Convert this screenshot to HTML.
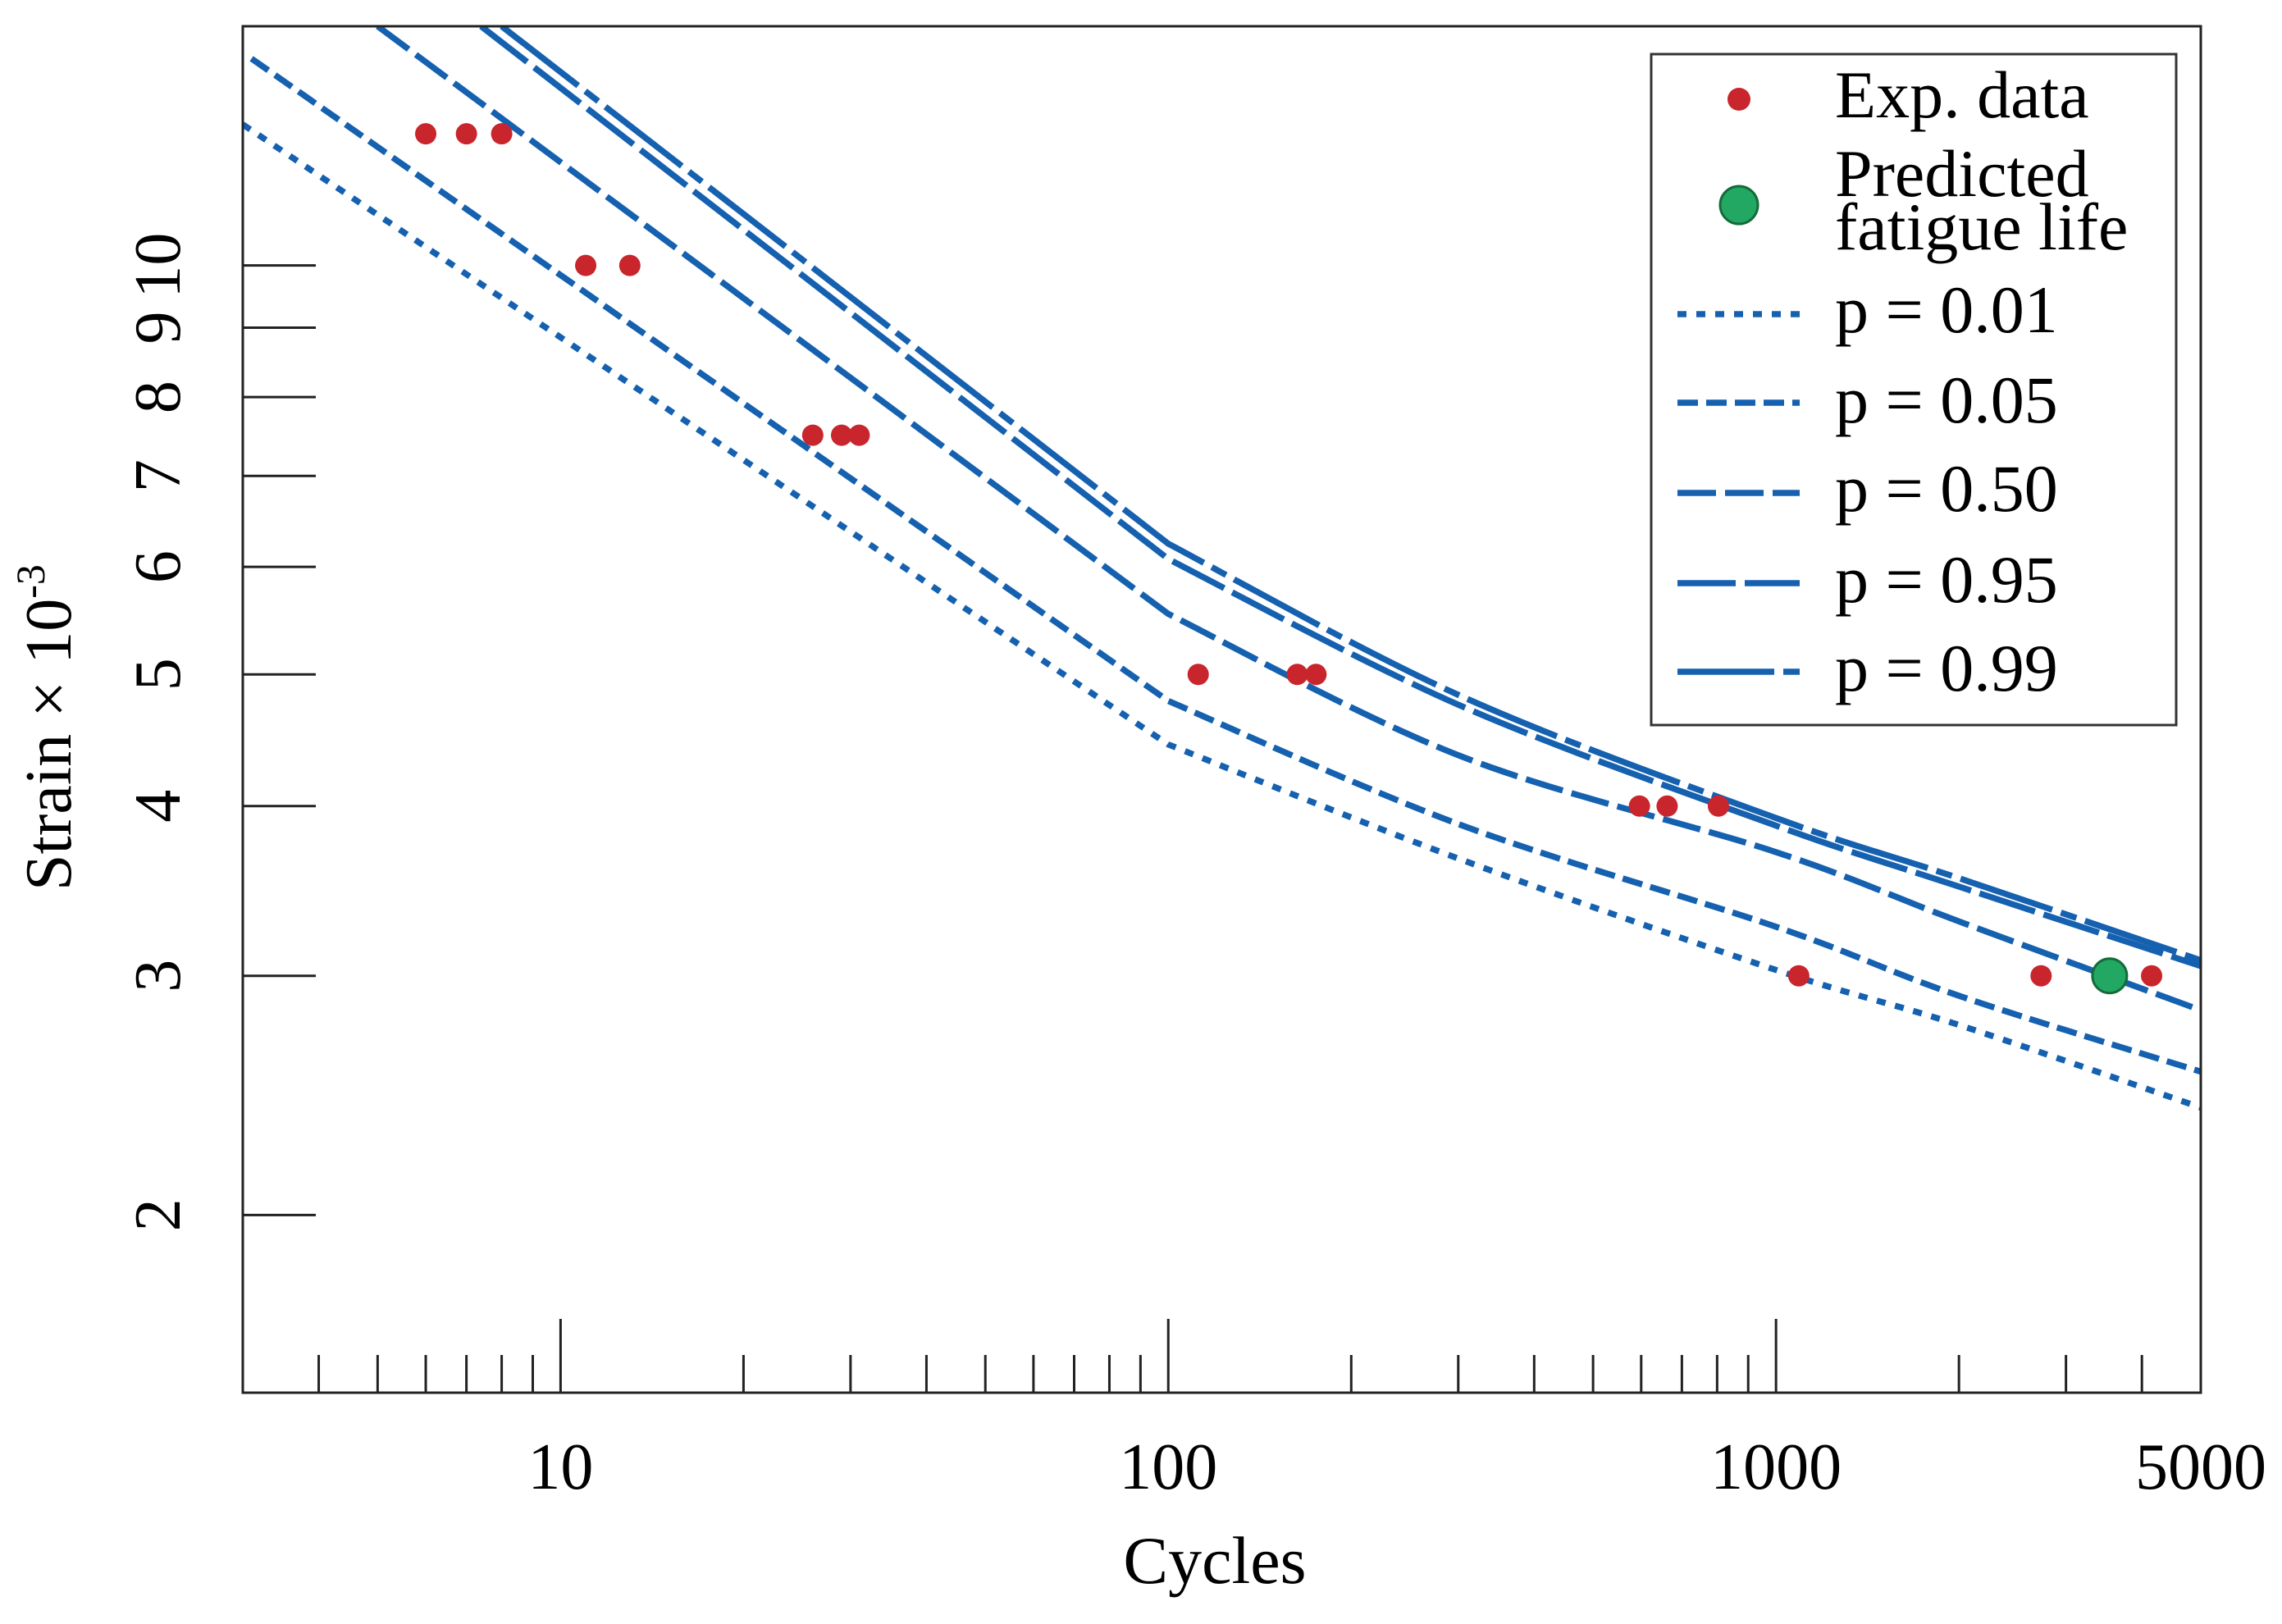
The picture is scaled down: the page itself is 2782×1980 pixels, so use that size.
<!DOCTYPE html>
<html><head><meta charset="utf-8"><style>
html,body{margin:0;padding:0;background:#fff;}
svg{display:block;font-family:"Liberation Serif",serif;}
</style></head><body>
<svg id="chart" width="2782" height="1980" viewBox="0 0 2782 1980" xmlns="http://www.w3.org/2000/svg">
<g id="grid-ticks"></g>
<g id="curves"></g>
<g id="points"></g>
<rect x="296" y="32" width="2387" height="1666" fill="none" stroke="#222" stroke-width="3"/>
<text x="1481" y="1930" font-size="82" text-anchor="middle">Cycles</text>
<text transform="translate(86,887) rotate(-90)" font-size="80" text-anchor="middle">Strain × 10<tspan font-size="50" dy="-32">-3</tspan></text>
<g id="legend">
<rect x="2013" y="66" width="640" height="818" fill="#fff" stroke="#333" stroke-width="3"/>
<circle cx="2120" cy="121" r="14" fill="#c9252c"/>
<text x="2237" y="143" font-size="82">Exp. data</text>
<circle cx="2120" cy="250" r="23" fill="#22a862" stroke="#146b3a" stroke-width="3"/>
<text x="2237" y="239" font-size="82">Predicted</text>
<text x="2237" y="304" font-size="82">fatigue life</text>
</g>
</svg>
<script>
const xMin = 3, xMax = 5000, yMin = 1.48, yMax = 15.0;
const xTickMajor = [10, 100, 1000];
const xTickMinor = [4,5,6,7,8,9,20,30,40,50,60,70,80,90,200,300,400,500,600,700,800,900,2000,3000,4000];
const xTickLabels = ["10","100","1000","5000"];
const xTickLabelVals = [10,100,1000,5000];
const yTicks = [2,3,4,5,6,7,8,9,10];
const yTickLabels = ["2","3","4","5","6","7","8","9","10"];
const p01Cycles = [3, 100, 300, 1000, 2000, 5000];
const p01 = [12.7, 4.44, 3.66, 3.03, 2.76, 2.40];
const p05Cycles = [3.1, 100, 300, 1000, 2000, 5000];
const p05 = [14.2, 4.78, 3.88, 3.26, 2.90, 2.55];
const p50Cycles = [5.0, 100, 300, 1000, 2000, 5000];
const p50 = [15.0, 5.54, 4.36, 3.70, 3.29, 2.83];
const p95Cycles = [7.4, 100, 300, 1000, 2000, 5000];
const p95 = [15.0, 6.08, 4.75, 3.87, 3.49, 3.05];
const p99Cycles = [8.0, 100, 300, 1000, 2000, 5000];
const p99 = [15.0, 6.24, 4.83, 3.92, 3.54, 3.08];
const expCycles = [6,7,8,11,13,26,29,31,112,163,175,596,662,804,1090,2730,4150];
const expStrain = [12.5,12.5,12.5,10,10,7.5,7.5,7.5,5,5,5,4,4,4,3,3,3];
const predCycles = [3540];
const predStrain = [3.0];

const L=296,R=2683,T=32,B=1698;
const X=v=>L+(Math.log10(v)-Math.log10(xMin))/(Math.log10(xMax)-Math.log10(xMin))*(R-L);
const Y=v=>B-(Math.log10(v)-Math.log10(yMin))/(Math.log10(yMax)-Math.log10(yMin))*(B-T);
const NS="http://www.w3.org/2000/svg";
function mk(tag,attrs,parent){const e=document.createElementNS(NS,tag);for(const k in attrs)e.setAttribute(k,attrs[k]);parent.appendChild(e);return e;}
const gt=document.getElementById('grid-ticks');
xTickMajor.forEach(v=>{const l=mk('line',{x1:X(v),x2:X(v),y1:B,y2:B-90,stroke:'#222','stroke-width':3},gt);

});
xTickMinor.forEach(v=>{const l=mk('line',{x1:X(v),x2:X(v),y1:B,y2:B-46,stroke:'#222','stroke-width':3},gt);

});
xTickLabelVals.forEach((v,i)=>{const t=mk('text',{x:X(v),y:1815,'font-size':80,'text-anchor':'middle'},gt);t.textContent=xTickLabels[i];

});
yTicks.forEach((v,i)=>{const l=mk('line',{x1:L,x2:L+89,y1:Y(v),y2:Y(v),stroke:'#222','stroke-width':3},gt);


const t=mk('text',{transform:`translate(219,${Y(v)}) rotate(-90)`,'font-size':80,'text-anchor':'middle'},gt);t.textContent=yTickLabels[i];

});

function smoothPath(cs,vs){
 const p=cs.map((c,i)=>[X(c),Y(vs[i])]);
 let d=`M${p[0][0].toFixed(1)},${p[0][1].toFixed(1)} L${p[1][0].toFixed(1)},${p[1][1].toFixed(1)}`;
 for(let i=1;i<p.length-1;i++){
  const p0=i===1?p[1]:p[i-1],p1=p[i],p2=p[i+1],p3=p[i+2]||p[i+1];
  const c1=[p1[0]+(p2[0]-p0[0])/6,p1[1]+(p2[1]-p0[1])/6];
  const c2=[p2[0]-(p3[0]-p1[0])/6,p2[1]-(p3[1]-p1[1])/6];
  d+=` C${c1[0].toFixed(1)},${c1[1].toFixed(1)} ${c2[0].toFixed(1)},${c2[1].toFixed(1)} ${p2[0].toFixed(1)},${p2[1].toFixed(1)}`;
 }
 return d;
}
const cg=document.getElementById('curves');
const series=[
 {c:p01Cycles,v:p01,d:'11 12',n:'p-0-01',lab:'p = 0.01',ly:383,tb:405},
 {c:p05Cycles,v:p05,d:'25 10',n:'p-0-05',lab:'p = 0.05',ly:491,tb:515},
 {c:p50Cycles,v:p50,d:'47 11',n:'p-0-50',lab:'p = 0.50',ly:601,tb:623},
 {c:p95Cycles,v:p95,d:'71 11',n:'p-0-95',lab:'p = 0.95',ly:711,tb:734},
 {c:p99Cycles,v:p99,d:'118 11 20 11',n:'p-0-99',lab:'p = 0.99',ly:819,tb:842}];
const clip=mk('clipPath',{id:'pc'},document.getElementById('chart'));
mk('rect',{x:L,y:T,width:R-L,height:B-T},clip);
const lg=document.getElementById('legend');
series.forEach(s=>{
 const pl=mk('path',{d:smoothPath(s.c,s.v),fill:'none',stroke:'#1561b0','stroke-width':7.5,'stroke-dasharray':s.d,'clip-path':'url(#pc)','stroke-linejoin':'round'},cg);
 
 
 const ll=mk('line',{x1:2045,x2:2194,y1:s.ly,y2:s.ly,stroke:'#1561b0','stroke-width':7.5,'stroke-dasharray':s.d},lg);
 
 
 const t=mk('text',{x:2237,y:s.tb,'font-size':82},lg);t.textContent=s.lab;
 
 
});
const pg=document.getElementById('points');
expCycles.forEach((c,i)=>{const e=mk('circle',{cx:X(c),cy:Y(expStrain[i]),r:13,fill:'#c9252c'},pg);

});
predCycles.forEach((c,i)=>{const e=mk('circle',{cx:X(c),cy:Y(predStrain[i]),r:21,fill:'#22a862',stroke:'#146b3a','stroke-width':3},pg);

});
</script>
</body></html>
